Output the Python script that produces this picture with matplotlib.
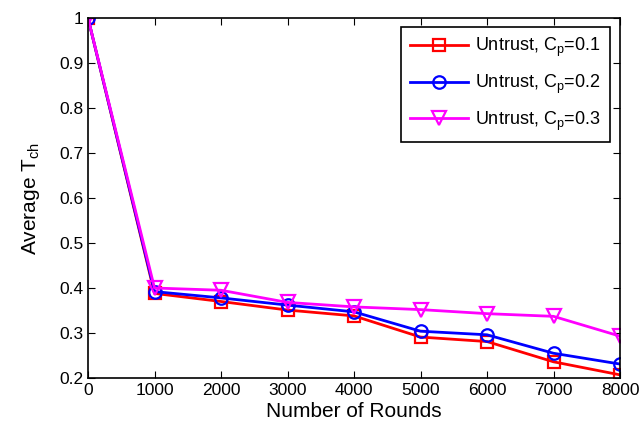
import numpy as np
import matplotlib.pyplot as plt

plt.rcParams['font.family'] = ['Liberation Sans', 'DejaVu Sans']

rounds = [0, 1000, 2000, 3000, 4000, 5000, 6000, 7000, 8000]
cp01 = [1.0, 0.388, 0.370, 0.351, 0.338, 0.291, 0.281, 0.236, 0.207]
cp02 = [1.0, 0.392, 0.378, 0.362, 0.347, 0.304, 0.296, 0.255, 0.231]
cp03 = [1.0, 0.400, 0.395, 0.368, 0.358, 0.352, 0.343, 0.337, 0.293]

fig = plt.figure(figsize=(6.44, 4.32), dpi=100)
ax = fig.add_axes([88 / 644, 1 - 378 / 432, 532 / 644, 360 / 432])

ax.plot(rounds, cp01, color='red', marker='s', lw=2, ms=9, mfc='none', mew=1.6,
        label='Untrust, C$_\\mathregular{p}$=0.1')
ax.plot(rounds, cp02, color='blue', marker='o', lw=2, ms=9, mfc='none', mew=1.6,
        label='Untrust, C$_\\mathregular{p}$=0.2')
ax.plot(rounds, cp03, color='magenta', marker='v', lw=2, ms=10, mfc='none', mew=1.6,
        label='Untrust, C$_\\mathregular{p}$=0.3')

ax.set_xlim(0, 8000)
ax.set_ylim(0.2, 1.0)
ax.set_xticks(rounds)
ax.set_yticks(np.arange(0.2, 1.01, 0.1))
ax.set_yticklabels(['0.2', '0.3', '0.4', '0.5', '0.6', '0.7', '0.8', '0.9', '1'])
ax.tick_params(direction='in', top=True, right=True, labelsize=12.5, length=5)
for s in ax.spines.values():
    s.set_linewidth(1.2)

ax.set_xlabel('Number of Rounds', fontsize=15, labelpad=3)
ax.set_ylabel('Average T$_\\mathregular{ch}$', fontsize=15, labelpad=12)

leg = ax.legend(loc='upper right', bbox_to_anchor=(1 - 10 / 532, 1 - 9 / 360),
                borderaxespad=0, fontsize=13, fancybox=False, framealpha=1,
                edgecolor='black', handlelength=3.2, handletextpad=0.4,
                borderpad=0.5, labelspacing=0.75)
leg.get_frame().set_linewidth(1.2)

fig.savefig('out.png', dpi=100)
